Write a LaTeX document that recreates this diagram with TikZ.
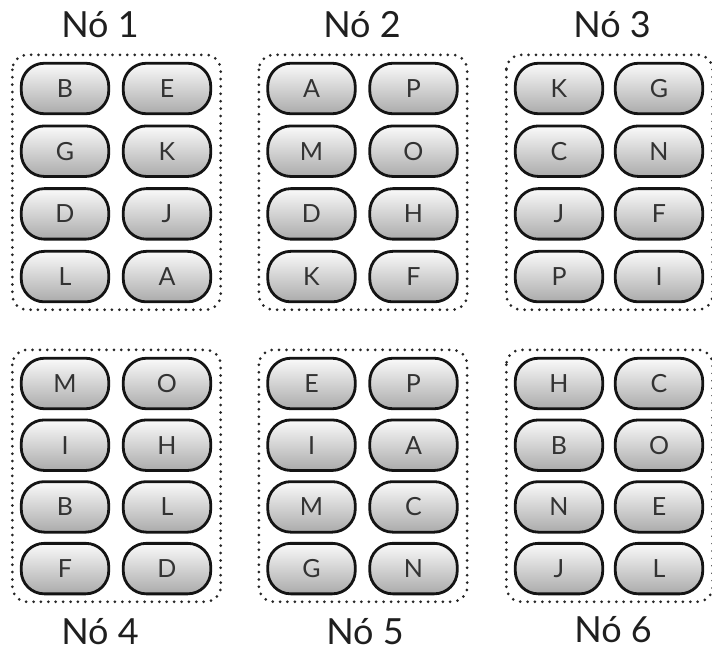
\documentclass[tikz,border=0pt]{standalone}
\usepackage{fontspec}
\setmainfont{Lato}
\usetikzlibrary{calc}
\begin{document}
\begin{tikzpicture}[x=1pt,y=-1pt,
  pill/.style={draw=black!92, line width=2.8pt, rounded corners=23pt,
    minimum width=87.5pt, minimum height=50.5pt, inner sep=0pt,
    top color=black!2, bottom color=black!33, text=black!80,
    font=\fontsize{25}{25}\selectfont},
  grp/.style={draw=black!85, line width=3pt, dash pattern=on 0pt off 7.4pt,
    line cap=round, rounded corners=15pt},
  title/.style={font=\fontsize{36}{36}\selectfont, text=black!88}]
\useasboundingbox (0,0) rectangle (712,652);
\foreach \g/\xl/\xr/\yy/\dy/\la/\lb/\lc/\ld/\le/\lf/\lg/\lh in {
  1/65/167/88.5/62.7/B/E/G/K/D/J/L/A,
  2/311.5/413.5/88.5/62.7/A/P/M/O/D/H/K/F,
  3/559/659/88.5/62.7/K/G/C/N/J/F/P/I,
  4/65/167/383.5/61.7/M/O/I/H/B/L/F/D,
  5/311.5/413.5/383.5/61.7/E/P/I/A/M/C/G/N,
  6/559/659/383.5/61.7/H/C/B/O/N/E/J/L}
{
  \node[pill] (g\g a) at (\xl,\yy) {\la};
  \node[pill] (g\g b) at (\xr,\yy) {\lb};
  \node[pill] (g\g c) at (\xl,\yy+\dy) {\lc};
  \node[pill] (g\g d) at (\xr,\yy+\dy) {\ld};
  \node[pill] (g\g e) at (\xl,\yy+2*\dy) {\le};
  \node[pill] (g\g f) at (\xr,\yy+2*\dy) {\lf};
  \node[pill] (g\g g) at (\xl,\yy+3*\dy) {\lg};
  \node[pill] (g\g h) at (\xr,\yy+3*\dy) {\lh};
  \draw[grp] ($(g\g a.north west)+(-7.5,-7)$) rectangle ($(g\g h.south east)+(8.5,6.5)$);
}
\node[title] (t1) at (100,25) {Nó 1};
\node[title] (t2) at (362,25) {Nó 2};
\node[title] (t3) at (612,25) {Nó 3};
\node[title] (t4) at (100,632) {Nó 4};
\node[title] (t5) at (365,632) {Nó 5};
\node[title] (t6) at (613,630) {Nó 6};
\end{tikzpicture}
\end{document}
